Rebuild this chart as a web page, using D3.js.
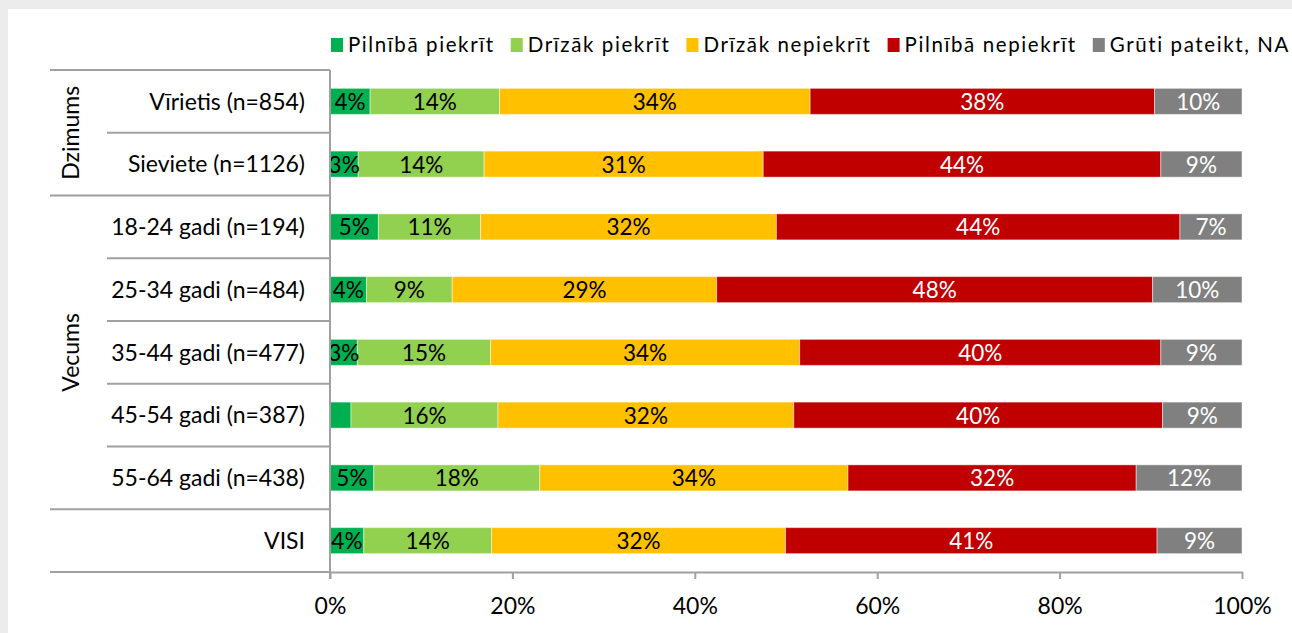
<!DOCTYPE html>
<html>
<head>
<meta charset="utf-8">
<script src="https://cdn.jsdelivr.net/npm/d3@7"></script>
<style>
  body { margin: 0; background: #ffffff; }
  svg { display: block; font-family: Lato, "Noto Sans", sans-serif; }
</style>
</head>
<body>
<svg id="chart" width="1292" height="633"></svg>
<script>
// categories (top to bottom)
var categories = ["Vīrietis (n=854)", "Sieviete (n=1126)", "18-24 gadi (n=194)", "25-34 gadi (n=484)",
                  "35-44 gadi (n=477)", "45-54 gadi (n=387)", "55-64 gadi (n=438)", "VISI"];
var seriesNames = ["Pilnībā piekrīt", "Drīzāk piekrīt", "Drīzāk nepiekrīt", "Pilnībā nepiekrīt", "Grūti pateikt, NA"];
var seriesColors = ["#00b050", "#92d050", "#ffc000", "#c00000", "#808080"];
var labelColors = ["#000", "#000", "#000", "#fff", "#fff"];

// values in %, one array per series, same order as categories
var pilnibaPiekrit   = [4.4, 3.1, 5.3, 4.0, 3.0, 2.3, 4.8, 3.7];
var drizakPiekrit    = [14.2, 13.8, 11.2, 9.4, 14.6, 16.1, 18.2, 14.0];
var drizakNepiekrit  = [34.1, 30.6, 32.4, 29.0, 33.9, 32.4, 33.8, 32.2];
var pilnibaNepiekrit = [37.8, 43.6, 44.2, 47.8, 39.6, 40.4, 31.6, 40.7];
var grutiPateikt     = [9.6, 8.9, 6.8, 9.8, 8.9, 8.7, 11.6, 9.3];

// groups on the left side
var groupNames = ["Dzimums", "Vecums", ""];
var groupStart = [0, 2, 7];
var groupEnd   = [2, 7, 8];

var xTicks = [0, 0.2, 0.4, 0.6, 0.8, 1];

var svg = d3.select("#chart");

// page frame with light shadow on left and top
svg.append("rect").attr("width", 1292).attr("height", 633).attr("fill", "#ececec");
svg.append("rect").attr("x", 8).attr("y", 9).attr("width", 1284).attr("height", 624).attr("fill", "#fff");

var seriesData = [pilnibaPiekrit, drizakPiekrit, drizakNepiekrit, pilnibaNepiekrit, grutiPateikt];

var rows = categories.map(function(c, i) {
  var total = d3.sum(seriesData, function(s) { return s[i]; });
  var acc = 0;
  return seriesData.map(function(s, k) {
    var v = s[i];
    var seg = {cat: c, k: k, v: v, x0: acc / total, x1: (acc + v) / total};
    acc += v;
    return seg;
  });
});

var x = d3.scaleLinear().domain([0, 1]).range([330, 1242]);
var y = d3.scaleBand().domain(categories).range([70, 572])
    .paddingInner(0.585).paddingOuter(0.2925);

var g = svg.append("g");

// bars
g.selectAll(".row")
  .data(rows)
  .enter().append("g")
    .attr("class", "row")
  .selectAll("rect")
  .data(function(d) { return d; })
  .enter().append("rect")
    .attr("x", function(d) { return x(d.x0); })
    .attr("y", function(d) { return y(d.cat); })
    .attr("width", function(d) { return x(d.x1) - x(d.x0); })
    .attr("height", y.bandwidth())
    .attr("fill", function(d) { return seriesColors[d.k]; })
    .attr("stroke", "rgba(255,255,255,0.45)")
    .attr("stroke-width", 1);

// value labels
g.selectAll(".vlab")
  .data(rows.flat().filter(function(d) { return d.v >= 2.5; }))
  .enter().append("text")
    .attr("class", "vlab")
    .attr("x", function(d) { return (x(d.x0) + x(d.x1)) / 2; })
    .attr("y", function(d) { return y(d.cat) + y.bandwidth() / 2; })
    .attr("dy", "0.38em")
    .attr("text-anchor", "middle")
    .attr("font-size", 22.5)
    .attr("fill", function(d) { return labelColors[d.k]; })
    .text(function(d) { return Math.round(d.v) + "%"; });

// category separators and left table lines
var step = y.step();
var boundaries = d3.range(categories.length + 1);
var groupEdges = groupStart.concat([categories.length]);
g.selectAll(".sep")
  .data(boundaries)
  .enter().append("line")
    .attr("x1", function(i) { return groupEdges.indexOf(i) >= 0 ? 50 : 107; })
    .attr("x2", 330)
    .attr("y1", function(i) { return 70 + i * step; })
    .attr("y2", function(i) { return 70 + i * step; })
    .attr("stroke", "#a0a0a0")
    .attr("stroke-width", 2);

// category labels
g.selectAll(".clab")
  .data(categories)
  .enter().append("text")
    .attr("x", 305)
    .attr("y", function(d) { return y(d) + y.bandwidth() / 2; })
    .attr("dy", "0.36em")
    .attr("text-anchor", "end")
    .attr("font-size", 23)
    .attr("fill", "#000")
    .text(function(d) { return d; });

// group labels (rotated)
groupNames.forEach(function(name, i) {
  var cy = 70 + (groupStart[i] + groupEnd[i]) / 2 * step;
  g.append("text")
    .attr("transform", "translate(71," + cy + ") rotate(-90)")
    .attr("dy", "0.36em")
    .attr("text-anchor", "middle")
    .attr("font-size", 23)
    .text(name);
});

// vertical axis line
g.append("line")
  .attr("x1", 330).attr("x2", 330).attr("y1", 70).attr("y2", 579)
  .attr("stroke", "#a0a0a0").attr("stroke-width", 2);

// x axis
var xAxis = g.append("g")
  .attr("transform", "translate(0,572)")
  .call(d3.axisBottom(x).tickValues(xTicks).tickFormat(d3.format(".0%")).tickSizeInner(7).tickSizeOuter(0).tickPadding(19));
xAxis.select(".domain").attr("stroke", "#a0a0a0").attr("stroke-width", 2);
xAxis.selectAll(".tick line").attr("stroke", "#a0a0a0").attr("stroke-width", 2);
xAxis.selectAll(".tick text").attr("font-size", 23).attr("font-family", "Lato, 'Noto Sans', sans-serif").attr("fill", "#000");

// legend
var legend = svg.append("g").attr("transform", "translate(0,45)");
var items = legend.selectAll(".leg")
  .data(seriesNames)
  .enter().append("g").attr("class", "leg");
items.append("rect")
  .attr("y", -7).attr("width", 12).attr("height", 14)
  .attr("fill", function(d, i) { return seriesColors[i]; });
items.append("text")
  .attr("x", 17).attr("dy", "0.36em")
  .attr("font-size", 20.5)
  .attr("letter-spacing", 1.6)
  .text(function(d) { return d; });
var widths = [];
items.select("text").each(function() { widths.push(17 + this.getComputedTextLength()); });
var gap = (1290 - 331 - d3.sum(widths)) / (seriesNames.length - 1);
var pos = 331;
items.attr("transform", function(d, i) { var p = pos; pos += widths[i] + gap; return "translate(" + p + ",0)"; });
</script>
</body>
</html>
